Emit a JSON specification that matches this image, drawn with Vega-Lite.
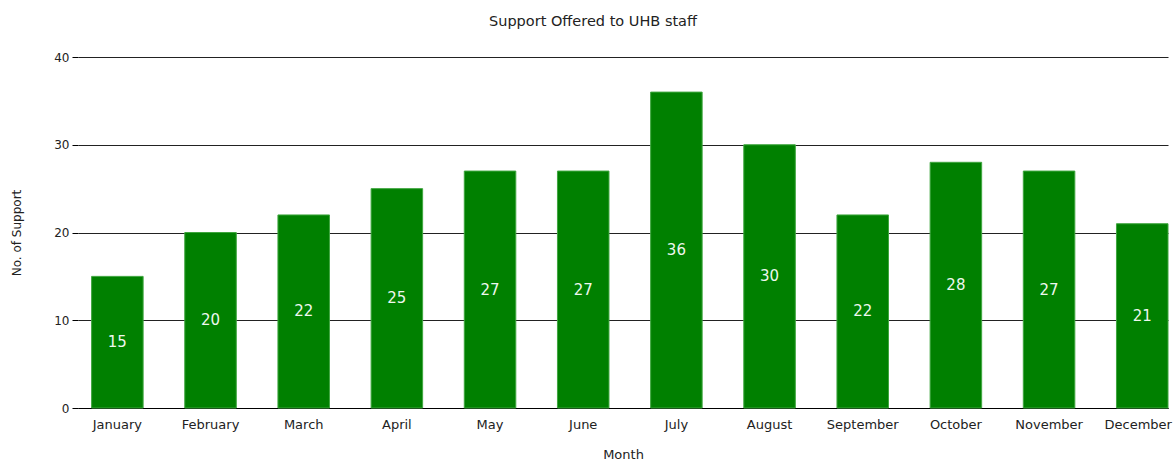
{
  "$schema": "https://vega.github.io/schema/vega-lite/v6.json",
  "autosize": "none",
  "width": 1090,
  "height": 351,
  "padding": {"left": 78, "top": 57, "right": 6, "bottom": 53},
  "background": "white",
  "title": {"text": "Support Offered to UHB staff", "font": "DejaVu Sans", "fontSize": 14.5, "fontWeight": "normal", "color": "#222", "offset": 22, "dx": -30},
  "config": {"view": {"stroke": null}},
  "data": {"values": [
    {"month": "January", "value": 15},
    {"month": "February", "value": 20},
    {"month": "March", "value": 22},
    {"month": "April", "value": 25},
    {"month": "May", "value": 27},
    {"month": "June", "value": 27},
    {"month": "July", "value": 36},
    {"month": "August", "value": 30},
    {"month": "September", "value": 22},
    {"month": "October", "value": 28},
    {"month": "November", "value": 27},
    {"month": "December", "value": 21}
  ]},
  "encoding": {
    "x": {"field": "month", "type": "nominal", "sort": null,
      "scale": {"paddingInner": 0.447, "paddingOuter": 0.073, "align": 1},
      "axis": {"title": "Month", "labelAngle": 0, "ticks": false, "domainColor": "#000", "domainWidth": 1,
        "labelFont": "DejaVu Sans", "labelFontSize": 13, "labelColor": "#222", "labelPadding": 10,
        "labelOffset": {"condition": {"test": "datum.value === 'December'", "value": -4}, "value": 0},
        "titleFont": "DejaVu Sans", "titleFontSize": 13, "titleFontWeight": "normal", "titleColor": "#222", "titlePadding": 17, "grid": false}}
  },
  "layer": [
    {"mark": {"type": "bar", "color": "#008000", "stroke": "#3fa63f", "strokeWidth": 1},
     "encoding": {"y": {"field": "value", "type": "quantitative",
        "scale": {"domain": [0, 40], "nice": false},
        "axis": {"title": "No. of Support", "values": [0, 10, 20, 30, 40], "domain": false, "tickSize": 6, "tickColor": "#000",
          "grid": true, "gridColor": "#222", "gridWidth": 1,
          "labelFont": "DejaVu Sans", "labelFontSize": 12, "labelColor": "#222", "labelPadding": 3,
          "titleFont": "DejaVu Sans", "titleFontSize": 12, "titleFontWeight": "normal", "titleColor": "#222", "titlePadding": 30}}}},
    {"transform": [{"calculate": "datum.value / 2", "as": "mid"}],
     "mark": {"type": "text", "color": "#eef7ee", "font": "DejaVu Sans", "fontSize": 15, "baseline": "middle", "align": "center"},
     "encoding": {"y": {"field": "mid", "type": "quantitative", "scale": {"domain": [0, 40], "nice": false}},
       "text": {"field": "value", "type": "quantitative"}}}
  ]
}
